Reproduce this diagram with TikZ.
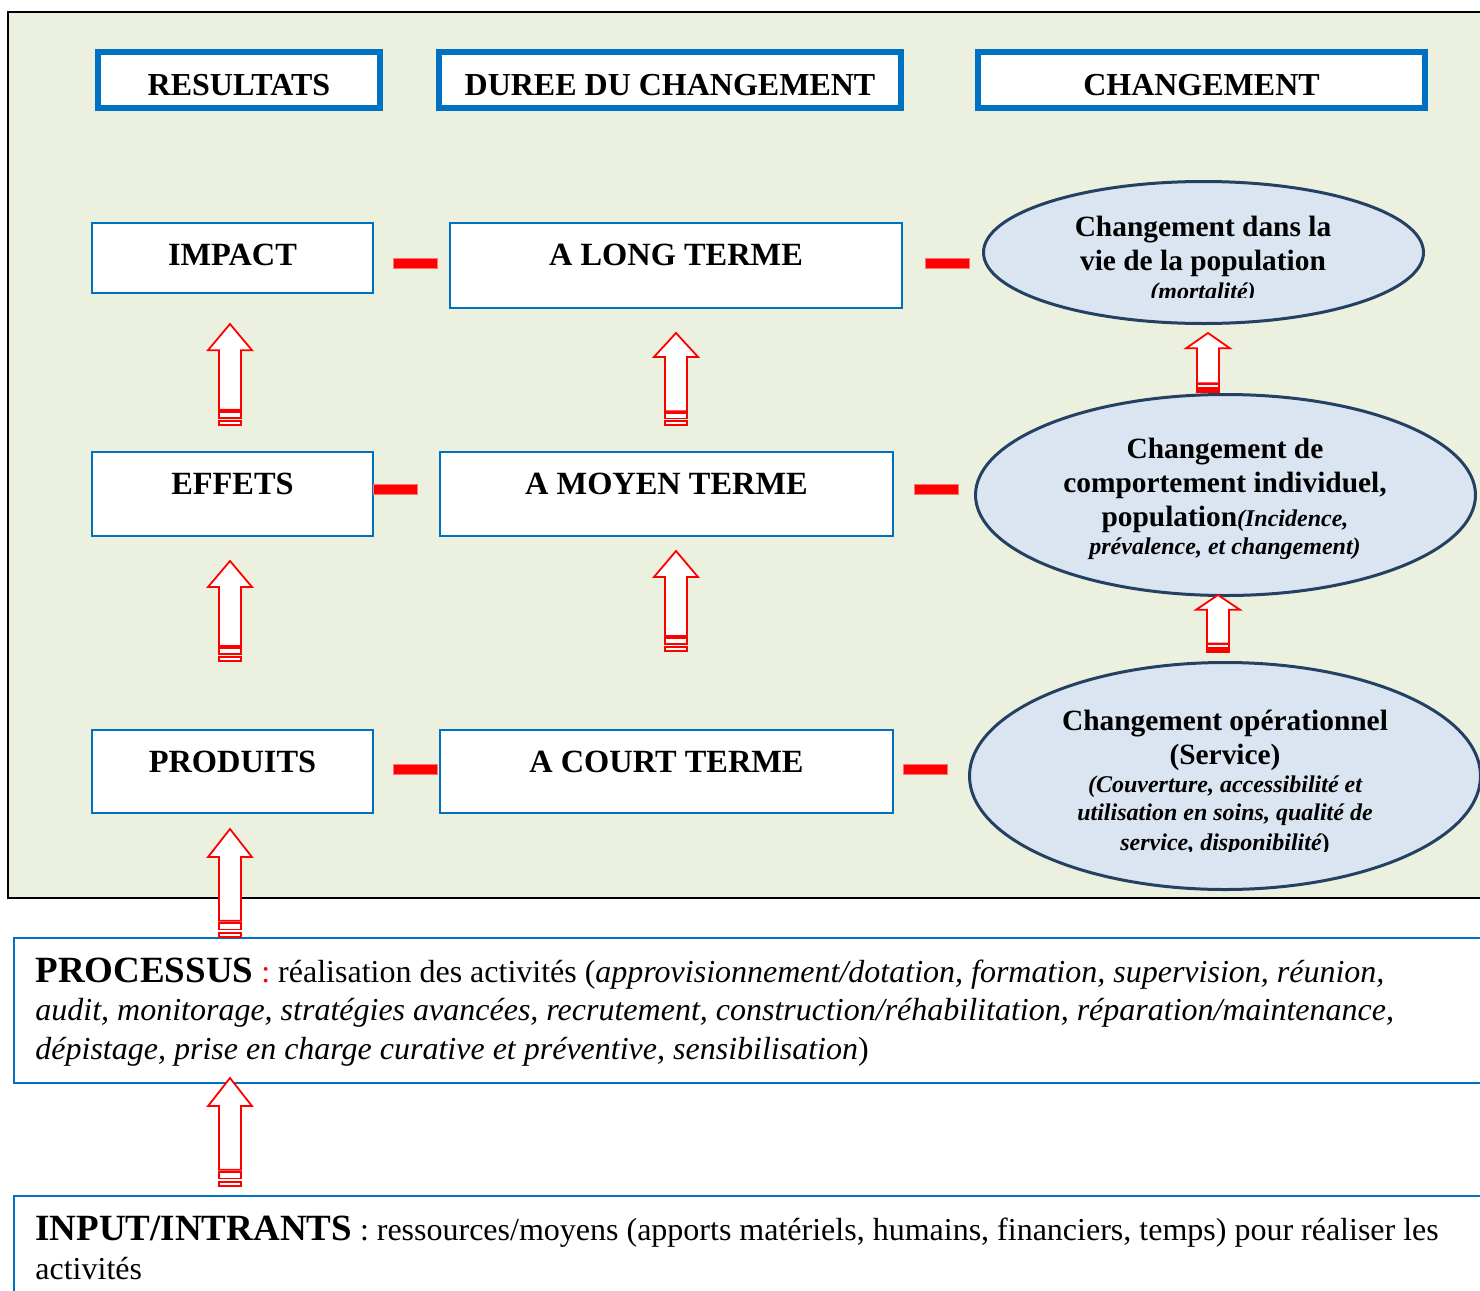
\documentclass[tikz,border=0pt]{standalone}
\usepackage{fontspec}
\setmainfont{Liberation Serif}
\usepackage{xcolor}
\usepackage{tikz}
\usetikzlibrary{shapes.geometric}
\definecolor{panelgreen}{RGB}{235, 241, 222}
\definecolor{boxblue}{RGB}{0, 112, 192}
\definecolor{ellipsefill}{RGB}{219, 229, 241}
\definecolor{ellipseedge}{RGB}{36, 64, 98}
\tikzset{
    header box/.style={rectangle, draw=boxblue, line width=3pt, fill=white, minimum height=28pt, inner sep=0pt, text height=21.5pt, text depth=6.5pt, font=\bfseries\fontsize{16}{19}\selectfont},
    level box/.style={rectangle, draw=boxblue, line width=1pt, fill=white, inner sep=0pt, text height=21pt, font=\bfseries\fontsize{16.2}{19}\selectfont},
    change ellipse/.style={ellipse, draw=ellipseedge, line width=1.5pt, fill=ellipsefill, inner sep=0pt},
    ellipse text/.style={align=center, inner sep=0pt, font=\bfseries\fontsize{14.7}{17}\selectfont},
    red bar/.style={rectangle, fill=red, draw=red!55, line width=0.4pt, minimum width=22pt, minimum height=5pt, inner sep=0pt},
    arrow line/.style={draw=red, fill=white, line width=0.9pt},
    text panel/.style={rectangle, draw=boxblue, line width=1pt, fill=white, inner sep=0pt, anchor=north west},
    panel text/.style={anchor=base west, align=left, inner sep=0pt, font=\fontsize{16}{19.25}\selectfont},
    stripe arrow/.pic={
        \draw[arrow line] (0,0) -- (22,{0.26*#1}) -- (11,{0.26*#1}) -- (11,{0.85*#1})
            -- (-11,{0.85*#1}) -- (-11,{0.26*#1}) -- (-22,{0.26*#1}) -- cycle;
        \draw[arrow line] (-11,{0.87*#1}) rectangle (11,{0.93*#1});
        \draw[arrow line] (-11,{0.96*#1}) rectangle (11,{#1});
    }
}
\newcommand{\smallit}{\itshape\fontsize{12}{14}\selectfont}

\begin{document}
\begin{tikzpicture}[x=0.5pt, y=-0.5pt]
\useasboundingbox (0,0) rectangle (1480,1291);
\clip (0,0) rectangle (1480,1291);

% green panel
\draw[fill=panelgreen, draw=black, line width=0.8pt] (8,12) rectangle (1520,898);

% headers
\node[header box, minimum width=141pt] (resultats) at (239,80) {RESULTATS};
\node[header box, minimum width=231pt] (duree) at (670,80) {DUREE DU CHANGEMENT};
\node[header box, minimum width=223.5pt] (changement) at (1201.5,80) {CHANGEMENT};

% levels
\node[level box, minimum width=140.5pt, text depth=14pt] (impact) at (232.5,258) {IMPACT};
\node[level box, minimum width=226pt, text depth=21.5pt] (longterme) at (676,265.5) {A LONG TERME};
\node[level box, minimum width=140.5pt, text depth=21pt] (effets) at (232.5,494) {EFFETS};
\node[level box, minimum width=226.5pt, text depth=21pt] (moyenterme) at (666.5,494) {A MOYEN TERME};
\node[level box, minimum width=140.5pt, text depth=20.5pt] (produits) at (232.5,771.5) {PRODUITS};
\node[level box, minimum width=226.5pt, text depth=20.5pt] (courtterme) at (666.5,771.5) {A COURT TERME};

% red bars
\node[red bar] (bar1a) at (415,263) {};
\node[red bar] (bar1b) at (947,263) {};
\node[red bar] (bar2a) at (395.5,489) {};
\node[red bar] (bar2b) at (936,489) {};
\node[red bar] (bar3a) at (415,769) {};
\node[red bar] (bar3b) at (925,769) {};

% ellipses
\node[change ellipse, minimum width=220pt, minimum height=71pt] (vie) at (1203.5,252.5) {};
\node[change ellipse, minimum width=250pt, minimum height=100.5pt] (comportement) at (1225.5,495) {};
\node[change ellipse, minimum width=255.5pt, minimum height=113.5pt] (operationnel) at (1225,776) {};

\begin{scope}
\clip (1000,190) rectangle (1400,297);
\node[ellipse text] (vietext) at (1203,260) {Changement dans la\\vie de la population\\[-2.5pt]{\smallit (mortalité)}};
\end{scope}
\node[ellipse text] (comportementtext) at (1225,499) {Changement de\\comportement individuel,\\population{\smallit(Incidence,}\\[-3pt]{\smallit prévalence, et changement)}};
\begin{scope}
\clip (1000,690) rectangle (1460,851);
\node[ellipse text, anchor=north] (operationneltext) at (1225,710) {Changement opérationnel\\(Service)\\[-3pt]{\smallit (Couverture, accessibilité et}\\[-3pt]{\smallit utilisation en soins, qualité de}\\[-2pt]{\smallit service, disponibilité}{\fontsize{12}{14}\selectfont)}};
\end{scope}

% bottom panels
\node[text panel, minimum width=745pt, minimum height=72.5pt] (processus) at (13,937) {};
\node[text panel, minimum width=745pt, minimum height=60pt] (input) at (13,1195) {};
\node[panel text] (processustext) at (35,1059) {{\bfseries\fontsize{18.5}{19}\selectfont PROCESSUS} \textcolor{red}{:} réalisation des activités (\textit{approvisionnement/dotation, formation, supervision, réunion,}\\
\textit{audit, monitorage, stratégies avancées, recrutement, construction/réhabilitation, réparation/maintenance,}\\
\textit{dépistage, prise en charge curative et préventive, sensibilisation})};
\node[panel text] (inputtext) at (35,1279) {{\bfseries\fontsize{18.5}{19}\selectfont INPUT/INTRANTS} : ressources/moyens (apports matériels, humains, financiers, temps) pour réaliser les\\
activités};

% block arrows
\pic at (230,324) {stripe arrow=101};
\pic at (676,333) {stripe arrow=92};
\pic at (1208,333) {stripe arrow=59};
\pic at (230,561) {stripe arrow=100};
\pic at (676,551) {stripe arrow=100};
\pic at (1218,595) {stripe arrow=57};
\pic at (230,829) {stripe arrow=108};
\pic at (230,1078) {stripe arrow=108};
\end{tikzpicture}
\end{document}
